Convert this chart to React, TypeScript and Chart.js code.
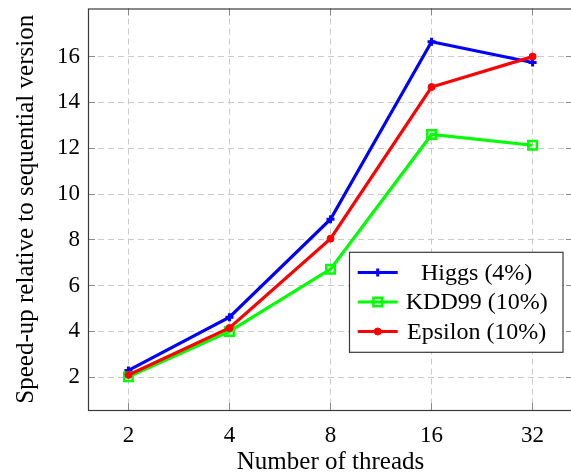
import React, { useEffect, useRef } from 'react';
import { Chart, registerables } from 'chart.js';
import { drawPoint } from 'chart.js/helpers';

Chart.register(...registerables);

const threads = [2, 4, 8, 16, 32];
const higgs = [2.3, 4.62, 8.9, 16.65, 15.74];
const kdd99 = [2.02, 4.0, 6.72, 12.6, 12.13];
const epsilon = [2.1, 4.15, 8.05, 14.67, 16.0];
const yTicks = [2, 4, 6, 8, 10, 12, 14, 16];
const seriesLabels = ['Higgs (4%)', 'KDD99 (10%)', 'Epsilon (10%)'];
const seriesColors = ['#0000ff', '#00ff00', '#ff0000'];
const xTitle = 'Number of threads';
const yTitle = 'Speed-up relative to sequential version';

const FONT = "'Liberation Serif', 'Times New Roman', serif";

const markerStyles = [
  { pointStyle: 'cross', radius: 4, borderWidth: 3, fill: false },
  { pointStyle: 'rect', radius: 6, borderWidth: 2.5, fill: false },
  { pointStyle: 'circle', radius: 3.5, borderWidth: 1, fill: true },
];

const framePlugin = {
  id: 'frame',
  beforeDatasetsDraw(chart: any) {
    const { ctx, chartArea: a, scales } = chart;
    const al = (p: number) => Math.round(p - 0.5) + 0.5;
    ctx.save();
    ctx.strokeStyle = '#8a8a8a';
    ctx.lineWidth = 1;
    const tl = 7;
    ctx.beginPath();
    scales.y.ticks.forEach((t: any) => {
      const y = al(scales.y.getPixelForValue(t.value));
      ctx.moveTo(a.left, y);
      ctx.lineTo(a.left + tl, y);
      ctx.moveTo(a.right, y);
      ctx.lineTo(a.right - tl, y);
    });
    scales.x.ticks.forEach((t: any) => {
      const x = al(scales.x.getPixelForValue(t.value));
      ctx.moveTo(x, a.bottom);
      ctx.lineTo(x, a.bottom - tl);
      ctx.moveTo(x, a.top);
      ctx.lineTo(x, a.top + tl);
    });
    ctx.stroke();
    ctx.strokeStyle = '#3a3a3a';
    ctx.lineWidth = 1.2;
    ctx.strokeRect(a.left + 0.5, a.top + 0.5, a.right - a.left, a.bottom - a.top);
    ctx.restore();
  },
};

const legendPlugin = {
  id: 'boxLegend',
  afterDraw(chart: any) {
    const { ctx, chartArea: a } = chart;
    const w = 213.5;
    const h = 100;
    const left = a.right - 224;
    const top = a.top + 243.3;
    ctx.save();
    ctx.fillStyle = '#ffffff';
    ctx.fillRect(left, top, w, h);
    ctx.strokeStyle = '#3a3a3a';
    ctx.lineWidth = 1.2;
    ctx.strokeRect(left + 0.5, top + 0.5, w, h);
    ctx.font = `24px ${FONT}`;
    ctx.textAlign = 'center';
    ctx.textBaseline = 'middle';
    seriesLabels.forEach((label, i) => {
      const y = top + 20.7 + i * 29.5;
      const c = seriesColors[i];
      ctx.strokeStyle = c;
      ctx.lineWidth = 3.2;
      ctx.setLineDash([]);
      ctx.beginPath();
      ctx.moveTo(left + 8.7, y);
      ctx.lineTo(left + 48.7, y);
      ctx.stroke();
      const m = markerStyles[i];
      ctx.fillStyle = m.fill ? c : 'rgba(0,0,0,0)';
      ctx.strokeStyle = c;
      ctx.lineWidth = m.borderWidth;
      drawPoint(ctx, { pointStyle: m.pointStyle as any, radius: m.radius, borderWidth: m.borderWidth, rotation: 0 }, left + 28.7, y);
      ctx.fillStyle = '#000000';
      ctx.fillText(label, left + 127.7, y + 1);
    });
    ctx.restore();
  },
};

export default function App() {
  const ref = useRef<HTMLCanvasElement>(null);
  useEffect(() => {
    const canvas = ref.current as HTMLCanvasElement;
    const series = [higgs, kdd99, epsilon];
    const datasets = series.map((vals, i) => ({
      label: seriesLabels[i],
      data: threads.map((t, j) => ({ x: Math.log2(t), y: vals[j] })),
      borderColor: seriesColors[i],
      backgroundColor: markerStyles[i].fill ? seriesColors[i] : 'rgba(0,0,0,0)',
      borderWidth: 3.2,
      tension: 0,
      pointStyle: markerStyles[i].pointStyle,
      pointRadius: markerStyles[i].radius,
      pointBorderWidth: markerStyles[i].borderWidth,
      pointBorderColor: seriesColors[i],
      pointBackgroundColor: markerStyles[i].fill ? seriesColors[i] : 'rgba(0,0,0,0)',
      order: 3 - i,
      fill: false,
    }));
    const chart = new Chart(canvas, {
      type: 'line',
      data: { datasets },
      plugins: [framePlugin, legendPlugin],
      options: {
        animation: false,
        responsive: false,
        maintainAspectRatio: false,
        layout: { padding: { left: 0, top: 6, right: 27, bottom: 0 } },
        plugins: { legend: { display: false }, tooltip: { enabled: false } },
        scales: {
          x: {
            type: 'linear',
            min: 0.6,
            max: 5.4,
            afterBuildTicks: (s: any) => {
              s.ticks = threads.map((t) => ({ value: Math.log2(t) }));
            },
            afterFit: (s: any) => {
              s.height = 65;
              s.paddingLeft = 0;
              s.paddingRight = 0;
              s.paddingTop = 0;
              s.paddingBottom = 0;
            },
            ticks: {
              callback: (v: any) => String(Math.round(Math.pow(2, v))),
              font: { family: FONT, size: 23 },
              color: '#000000',
              padding: 12,
              maxRotation: 0,
              autoSkip: false,
            },
            grid: { color: '#cacaca', lineWidth: 1, drawTicks: false },
            border: { display: false, dash: [6, 4] },
            title: {
              display: true,
              text: xTitle,
              font: { family: FONT, size: 25, lineHeight: 1.04 },
              color: '#000000',
              padding: { top: 0, bottom: 0 },
            },
          },
          y: {
            type: 'linear',
            min: 0.57,
            max: 18.1,
            afterBuildTicks: (s: any) => {
              s.ticks = yTicks.map((v) => ({ value: v }));
            },
            afterFit: (s: any) => {
              s.width = 88;
              s.paddingLeft = 0;
              s.paddingRight = 0;
              s.paddingTop = 0;
              s.paddingBottom = 0;
            },
            ticks: {
              font: { family: FONT, size: 23 },
              color: '#000000',
              padding: 8,
            },
            grid: { color: '#cacaca', lineWidth: 1, drawTicks: false },
            border: { display: false, dash: [6, 4] },
            title: {
              display: true,
              text: yTitle,
              font: { family: FONT, size: 25 },
              color: '#000000',
              padding: { top: 11, bottom: 0 },
            },
          },
        },
      } as any,
    });
    return () => chart.destroy();
  }, []);
  return (
    <div style={{ position: 'fixed', left: 0, top: 0, width: 571, height: 475, overflow: 'hidden', background: '#ffffff' }}>
      <canvas ref={ref} width={600} height={475} style={{ display: 'block', width: 600, height: 475 }} />
    </div>
  );
}
